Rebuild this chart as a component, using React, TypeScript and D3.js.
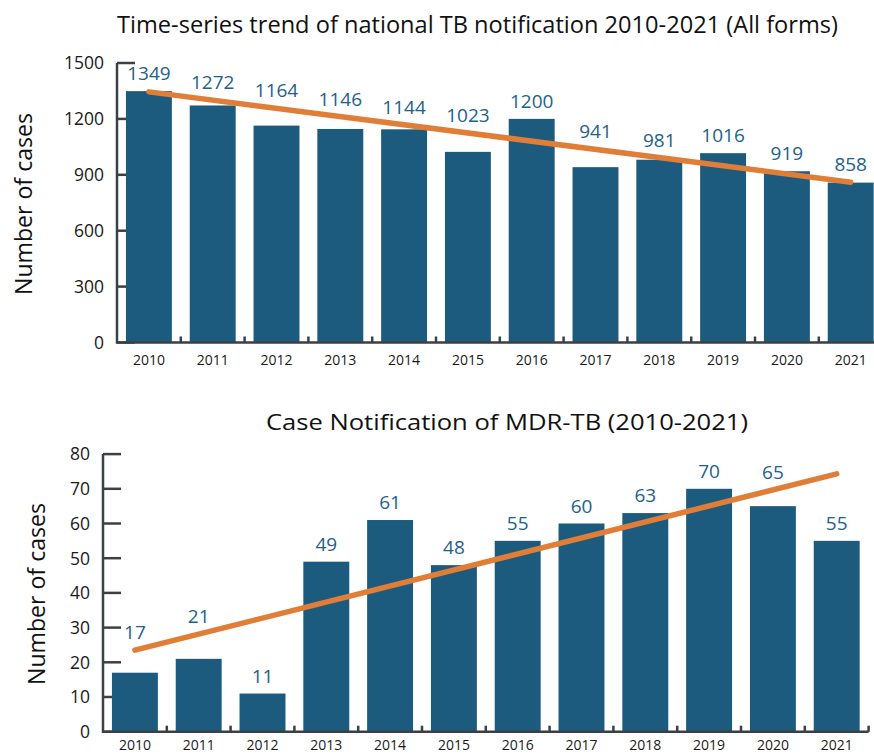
import React from "react";
import * as d3 from "d3";

// data
const years = ["2010", "2011", "2012", "2013", "2014", "2015", "2016", "2017", "2018", "2019", "2020", "2021"];
const allFormsCases = [1349, 1272, 1164, 1146, 1144, 1023, 1200, 941, 981, 1016, 919, 858];
const mdrCases = [17, 21, 11, 49, 61, 48, 55, 60, 63, 70, 65, 55];
// trend line values at first and last year
const allFormsTrend = [1345, 860];
const mdrTrend = [23.5, 74.3];
const allFormsTicks = [0, 300, 600, 900, 1200, 1500];
const mdrTicks = [0, 10, 20, 30, 40, 50, 60, 70, 80];

const BAR = "#1c5a7e";
const LABEL = "#22618b";
const ORANGE = "#e07d36";
const AXIS = "#3b4045";
const FONT = "'Open Sans', sans-serif";

type PanelProps = {
  values: number[];
  trend: number[];
  ticks: number[];
  left: number;
  bottom: number;
  top: number;
  xLabelGap: number;
  title: string;
  titleX: number;
  titleY: number;
  titleLen: number;
  titleSize: number;
  yTitleX: number;
  yTitleY: number;
};

function Panel(p: PanelProps) {
  const step = 63.8;
  const right = p.left + step * years.length;
  const x = d3.scaleBand<string>()
    .domain(years)
    .range([p.left, right])
    .paddingInner(0.28)
    .paddingOuter(0.14);
  const y = d3.scaleLinear()
    .domain([0, d3.max(p.ticks) as number])
    .range([p.bottom, p.top]);

  const cx = (i: number) => (x(years[i]) as number) + x.bandwidth() / 2;
  const trendLine = d3.line<number>()
    .x((d, i) => cx(i === 0 ? 0 : years.length - 1))
    .y(d => y(d));
  const trendAt = (i: number) =>
    p.trend[0] + (p.trend[1] - p.trend[0]) * i / (years.length - 1);

  return (
    <g>
      <text x={p.titleX} y={p.titleY} fontSize={p.titleSize} fontFamily={FONT} fill="#111"
        textLength={p.titleLen} lengthAdjust="spacingAndGlyphs">{p.title}</text>

      <text transform={`translate(${p.yTitleX},${p.yTitleY}) rotate(-90)`} textAnchor="middle"
        fontSize={23} fontFamily={FONT} fill="#111" textLength={182}
        lengthAdjust="spacingAndGlyphs">Number of cases</text>

      {/* y ticks */}
      {p.ticks.map(t => (
        <g key={t}>
          <line x1={p.left} x2={p.left + 18} y1={y(t)} y2={y(t)} stroke={AXIS} strokeWidth={2.5} />
          <text x={p.left - 13} y={y(t)} dy="0.36em" textAnchor="end" fontSize={17.5}
            fontFamily={FONT} fill="#1a1a1a">{t}</text>
        </g>
      ))}

      {/* bars */}
      {p.values.map((v, i) => (
        <rect key={years[i]} x={x(years[i])} y={y(v)} width={x.bandwidth()}
          height={p.bottom - y(v)} fill={BAR} />
      ))}

      {/* x ticks */}
      {years.map((yr, i) => (
        <line key={"t" + yr} x1={p.left + step * (i + 1)} x2={p.left + step * (i + 1)}
          y1={p.bottom} y2={p.bottom - 6} stroke={AXIS} strokeWidth={2.5} />
      ))}
      {years.map((yr, i) => (
        <text key={"l" + yr} x={cx(i)} y={p.bottom + p.xLabelGap} dy="0.36em" textAnchor="middle"
          fontSize={14} fontFamily={FONT} fill="#1a1a1a">{yr}</text>
      ))}

      {/* axes */}
      <path d={`M${p.left},${p.top}V${p.bottom}H${right}`} fill="none" stroke={AXIS} strokeWidth={2.5} />

      {/* trend */}
      <path d={trendLine(p.trend) as string} fill="none" stroke={ORANGE} strokeWidth={5.5}
        strokeLinecap="round" />

      {/* value labels */}
      {p.values.map((v, i) => {
        const barTop = y(v);
        const trendY = y(trendAt(i));
        const anchor = trendY < barTop && barTop - trendY < 40 ? trendY : barTop;
        return (
          <text key={"v" + years[i]} x={cx(i)} y={anchor - 11} textAnchor="middle"
            fontSize={19} fontFamily={FONT} fill={LABEL}>{v}</text>
        );
      })}
    </g>
  );
}

export default function App() {
  return (
    <div style={{ position: "absolute", left: 0, top: 0 }}>
      <svg width={874} height={754} style={{ display: "block", background: "#fff" }}>
        <Panel values={allFormsCases} trend={allFormsTrend} ticks={allFormsTicks}
          left={117} bottom={342.5} top={63} xLabelGap={17}
          title="Time-series trend of national TB notification 2010-2021 (All forms)"
          titleX={117} titleY={33} titleLen={721} titleSize={23}
          yTitleX={32} yTitleY={204} />
        <Panel values={mdrCases} trend={mdrTrend} ticks={mdrTicks}
          left={103} bottom={731.7} top={454.1} xLabelGap={13}
          title="Case Notification of MDR-TB (2010-2021)"
          titleX={266} titleY={430} titleLen={482} titleSize={22}
          yTitleX={45} yTitleY={594} />
      </svg>
    </div>
  );
}
